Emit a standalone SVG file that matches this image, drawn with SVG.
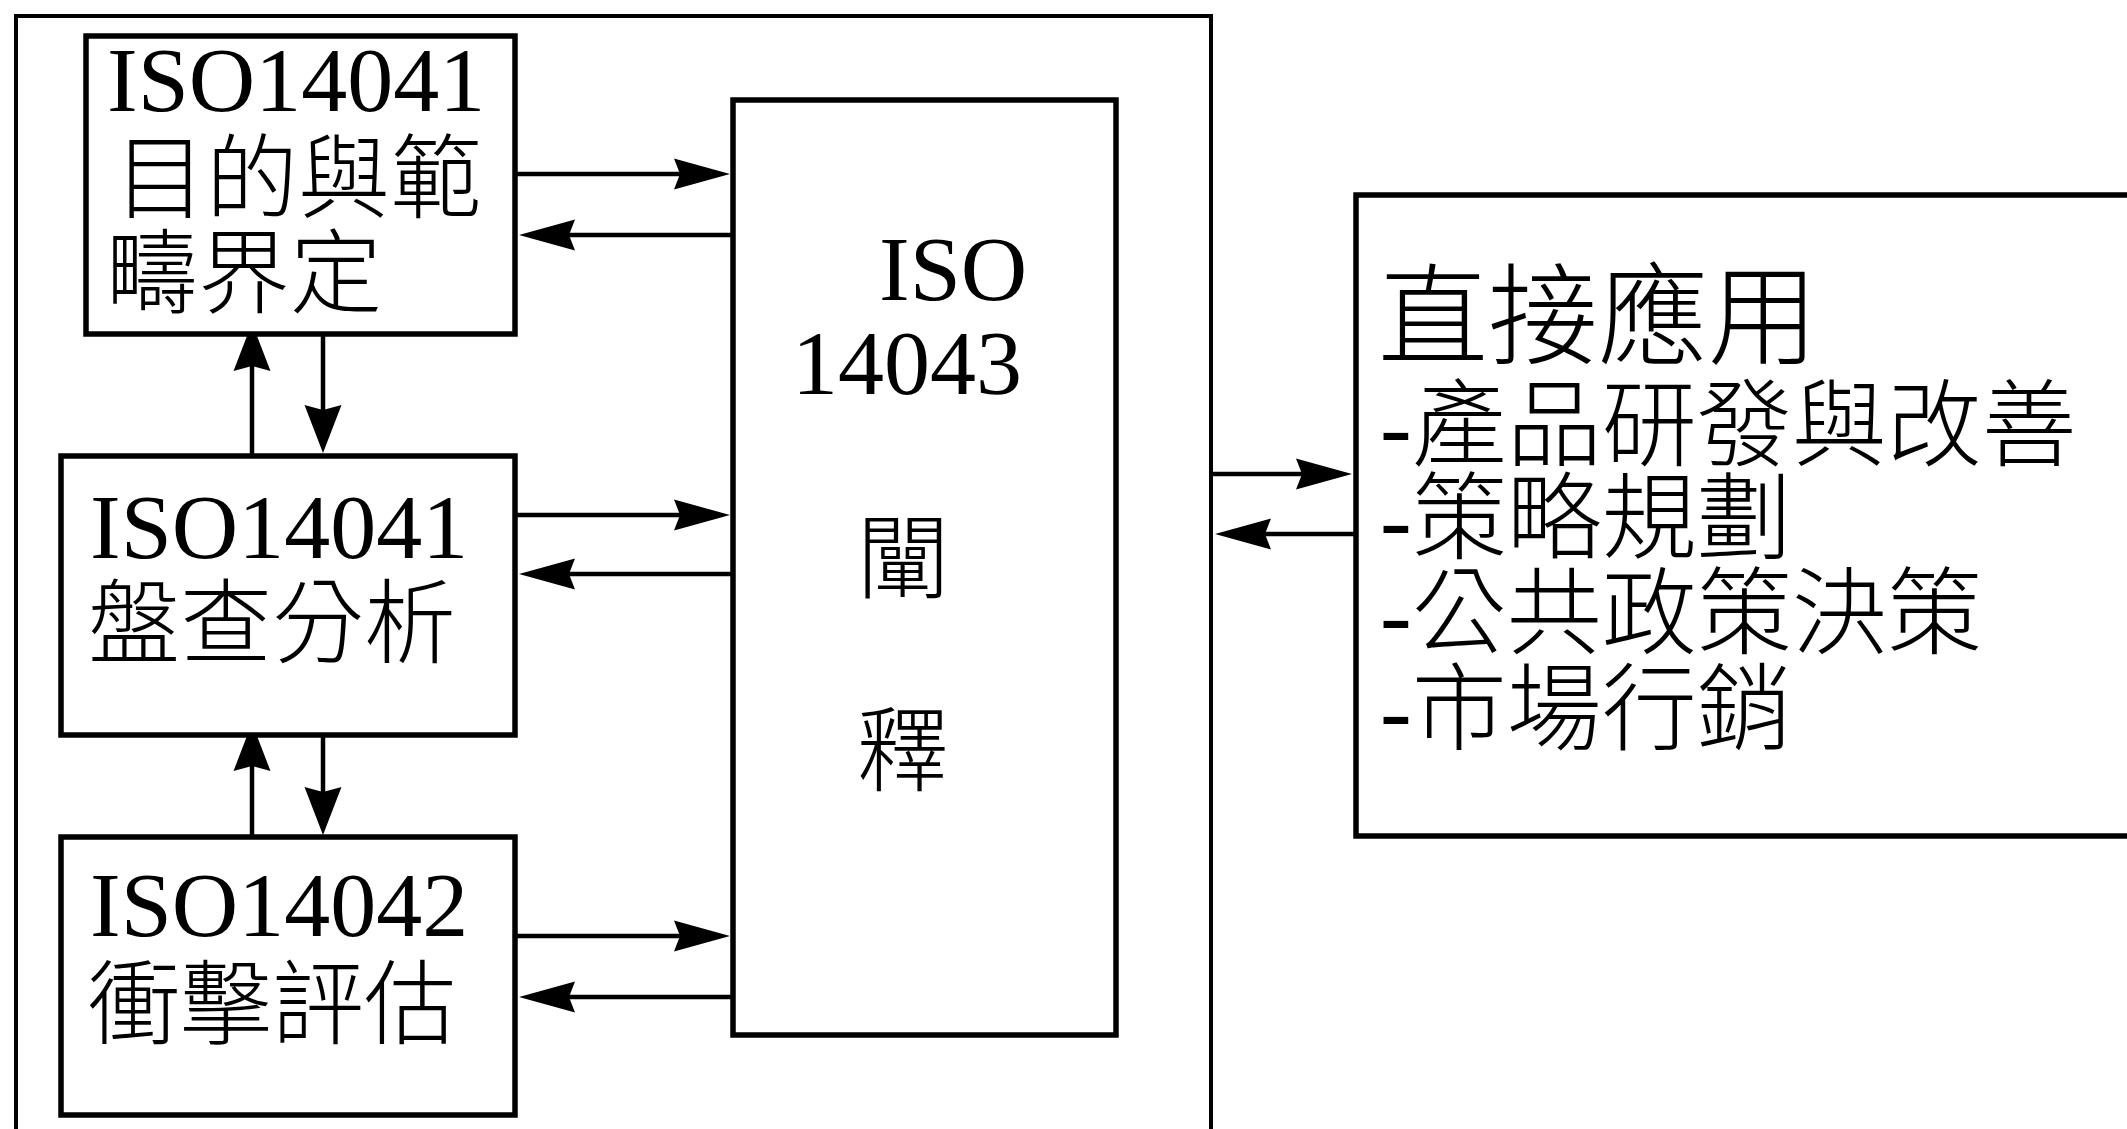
<svg xmlns="http://www.w3.org/2000/svg" width="2127" height="1129" viewBox="0 0 2127 1129">
<style>
.box{fill:#fff;stroke:#000;stroke-width:5.5}
.outer{fill:none;stroke:#000;stroke-width:4}
.ln{fill:none;stroke:#000;stroke-width:4.5}
.t{font-family:"Liberation Serif","Noto Sans CJK TC",serif;font-size:92px;font-weight:300;fill:#000}
.tr{font-family:"Liberation Serif","Noto Sans CJK TC",serif;font-size:95px;font-weight:300;fill:#000}
.mid{text-anchor:middle}
</style>
<defs>
<marker id="ah" markerUnits="userSpaceOnUse" viewBox="-20 -20 64 40" markerWidth="64" markerHeight="40" refX="0" refY="0" orient="auto">
<path d="M40,0 L-16,-15.5 L-10,0 L-16,15.5 Z" fill="#000"/>
</marker>
<marker id="av" markerUnits="userSpaceOnUse" viewBox="-14 -22 56 44" markerWidth="56" markerHeight="44" refX="0" refY="0" orient="auto">
<path d="M38,0 L-10,-18.5 L-5,0 L-10,18.5 Z" fill="#000"/>
</marker>
</defs>
<rect x="0" y="0" width="2127" height="1129" fill="#fff"/>
<g id="outer-frame">
<rect class="outer" x="16" y="16" width="1195" height="1130"/>
</g>
<g id="connectors">
<line class="ln" x1="515" y1="174" x2="690" y2="174" marker-end="url(#ah)"/>
<line class="ln" x1="733" y1="235" x2="559" y2="235" marker-end="url(#ah)"/>
<line class="ln" x1="515" y1="515" x2="690" y2="515" marker-end="url(#ah)"/>
<line class="ln" x1="733" y1="574" x2="559" y2="574" marker-end="url(#ah)"/>
<line class="ln" x1="515" y1="936" x2="690" y2="936" marker-end="url(#ah)"/>
<line class="ln" x1="733" y1="997" x2="559" y2="997" marker-end="url(#ah)"/>
<line class="ln" x1="1211" y1="474" x2="1312" y2="474" marker-end="url(#ah)"/>
<line class="ln" x1="1356" y1="534" x2="1255" y2="534" marker-end="url(#ah)"/>
<line class="ln" x1="252" y1="456" x2="252" y2="361" marker-end="url(#av)"/>
<line class="ln" x1="323" y1="334" x2="323" y2="415" marker-end="url(#av)"/>
<line class="ln" x1="252" y1="837" x2="252" y2="761" marker-end="url(#av)"/>
<line class="ln" x1="323" y1="735" x2="323" y2="797" marker-end="url(#av)"/>
</g>
<g id="node-goal-scope">
<rect class="box" x="86" y="36" width="429" height="298"/>
<text class="t" x="107" y="111">ISO14041</text>
<text class="t" x="114" y="211">目的與範</text>
<text class="t" x="106" y="306">疇界定</text>
</g>
<g id="node-inventory">
<rect class="box" x="61" y="456" width="454" height="279"/>
<text class="t" x="90" y="558">ISO14041</text>
<text class="t" x="88" y="656">盤查分析</text>
</g>
<g id="node-impact">
<rect class="box" x="61" y="837" width="454" height="278"/>
<text class="t" x="90" y="936">ISO14042</text>
<text class="t" x="88" y="1037">衝擊評估</text>
</g>
<g id="node-interpretation">
<rect class="box" x="733" y="100" width="383" height="935"/>
<text class="t" x="879" y="300">ISO</text>
<text class="t" x="792" y="394">14043</text>
<text class="t mid" x="903" y="591">闡</text>
<text class="t mid" x="903" y="784">釋</text>
</g>
<g id="node-applications">
<rect class="box" x="1356" y="195" width="790" height="641"/>
<text class="tr" x="1378" y="356" style="font-size:110px">直接應用</text>
<text class="tr" x="1380" y="459">-產品研發與改善</text>
<text class="tr" x="1380" y="552">-策略規劃</text>
<text class="tr" x="1380" y="647">-公共政策決策</text>
<text class="tr" x="1380" y="743">-市場行銷</text>
</g>
</svg>
